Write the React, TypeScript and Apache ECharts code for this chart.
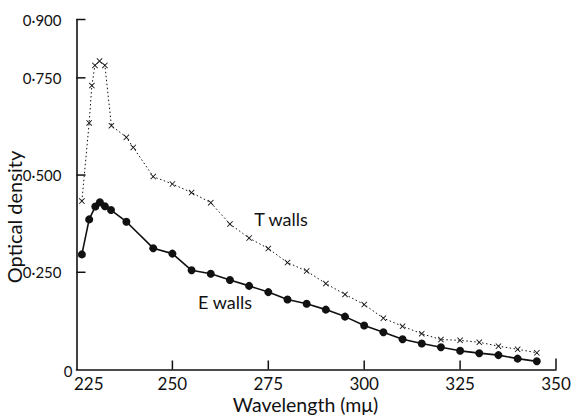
import React, { useEffect, useRef } from "react";
import * as echarts from "echarts";

const tWavelength = [226.4, 228.3, 229, 229.8, 231, 232.4, 234.1, 238, 239.8, 245, 250, 255, 260, 265, 270, 275, 280, 285, 290, 295, 300, 305, 310, 315, 320, 325, 330, 335, 340, 345];
const tDensity = [0.433, 0.634, 0.73, 0.782, 0.793, 0.782, 0.627, 0.597, 0.571, 0.496, 0.477, 0.455, 0.429, 0.374, 0.338, 0.311, 0.275, 0.253, 0.221, 0.193, 0.167, 0.132, 0.111, 0.092, 0.077, 0.075, 0.07, 0.06, 0.052, 0.043];

const eWavelength = [226.4, 228.3, 229.9, 231.1, 232.4, 234, 238, 245, 250, 255, 260, 265, 270, 275, 280, 285, 290, 295, 300, 305, 310, 315, 320, 325, 330, 335, 340, 345];
const eDensity = [0.296, 0.386, 0.419, 0.43, 0.42, 0.41, 0.38, 0.312, 0.298, 0.255, 0.246, 0.23, 0.215, 0.199, 0.18, 0.169, 0.154, 0.136, 0.113, 0.096, 0.078, 0.067, 0.057, 0.048, 0.042, 0.037, 0.028, 0.021];

const xMin = 225;
const xMax = 350;
const yMax = 0.9;
const xTicks = [250, 275, 300, 325, 350];
const yTicks = [0.25, 0.5, 0.75, 0.9];

const xName = "Wavelength (mμ)";
const yName = "Optical density";

const FONT = "Lato";
const INK = "#111";

const crossSymbol = "path://M0,1L1,0L5,4L9,0L10,1L6,5L10,9L9,10L5,6L1,10L0,9L4,5Z";

export default function App() {
  const ref = useRef<HTMLDivElement>(null);
  useEffect(() => {
    if (!ref.current) return;
    const chart = echarts.init(ref.current, null, { renderer: "svg" });
    chart.setOption({
      animation: false,
      backgroundColor: "#fff",
      grid: { left: 76.5, right: 15, top: 19.5, bottom: 46.5, outerBoundsMode: "none" },
      xAxis: {
        type: "value",
        min: xMin,
        max: xMax,
        interval: 25,
        axisLine: { show: true, onZero: false, lineStyle: { color: INK, width: 1.6 } },
        axisTick: { show: false },
        axisLabel: { fontFamily: FONT, fontSize: 17, color: INK, margin: 5, showMinLabel: false },
        splitLine: { show: false },
      },
      yAxis: {
        type: "value",
        min: 0,
        max: yMax,
        interval: 0.25,
        axisLine: { show: true, onZero: false, lineStyle: { color: INK, width: 1.6 } },
        axisTick: { show: false },
        axisLabel: {
          fontFamily: FONT, fontSize: 15, color: INK, margin: 15, showMinLabel: false, showMaxLabel: true,
          formatter: (v: number) => v.toFixed(3).replace(".", "·"),
        },
        splitLine: { show: false },
      },
      series: [
        {
          name: "T walls", type: "line",
          data: tWavelength.map((x, i) => [x, tDensity[i]]),
          symbol: crossSymbol, symbolSize: 6, showAllSymbol: true,
          lineStyle: { color: INK, width: 1, type: [1.5, 2.5] }, itemStyle: { color: INK },
        },
        {
          name: "E walls", type: "line",
          data: eWavelength.map((x, i) => [x, eDensity[i]]),
          symbol: "circle", symbolSize: 8, showAllSymbol: true,
          lineStyle: { color: INK, width: 1.6 }, itemStyle: { color: INK },
        },
      ],
    });

    const px = (x: number, y: number) => chart.convertToPixel({ xAxisIndex: 0, yAxisIndex: 0 }, [x, y]) as number[];
    const origin = px(xMin, 0);
    const lineStyle = { stroke: INK, lineWidth: 1.5 };
    const graphics: any[] = [];
    xTicks.forEach((v) => {
      const p = px(v, 0);
      const len = v === xMax ? 11 : 9;
      graphics.push({ type: "line", silent: true, z: 10, shape: { x1: p[0], y1: p[1], x2: p[0], y2: p[1] - len }, style: lineStyle });
    });
    yTicks.forEach((v) => {
      const p = px(xMin, v);
      graphics.push({ type: "line", silent: true, z: 10, shape: { x1: p[0], y1: p[1], x2: p[0] + 9, y2: p[1] }, style: lineStyle });
    });
    graphics.push({ type: "text", z: 10, x: origin[0] - 4, y: origin[1] + 1, style: { text: "0", fontFamily: FONT, fontSize: 15, fill: INK, align: "right", verticalAlign: "middle" } });
    graphics.push({ type: "text", z: 10, x: origin[0] - 2.5, y: origin[1] + 5, style: { text: String(xMin), fontFamily: FONT, fontSize: 17, fill: INK, align: "left", verticalAlign: "top" } });
    graphics.push({ type: "text", x: 281, y: 219, style: { text: "T walls", fontFamily: FONT, fontSize: 18, fill: INK, align: "center", verticalAlign: "middle" } });
    graphics.push({ type: "text", x: 225, y: 302, style: { text: "E walls", fontFamily: FONT, fontSize: 18, fill: INK, align: "center", verticalAlign: "middle" } });
    graphics.push({ type: "text", x: 305.5, y: 404, style: { text: xName, fontFamily: FONT, fontSize: 19.5, fill: INK, align: "center", verticalAlign: "middle" } });
    graphics.push({ type: "text", x: 14, y: 217, rotation: Math.PI / 2, style: { text: yName, fontFamily: FONT, fontSize: 20, fill: INK, align: "center", verticalAlign: "middle" } });
    chart.setOption({ graphic: graphics });

    return () => chart.dispose();
  }, []);
  return <div ref={ref} style={{ position: "fixed", left: 0, top: 0, width: 571, height: 416 }} />;
}
